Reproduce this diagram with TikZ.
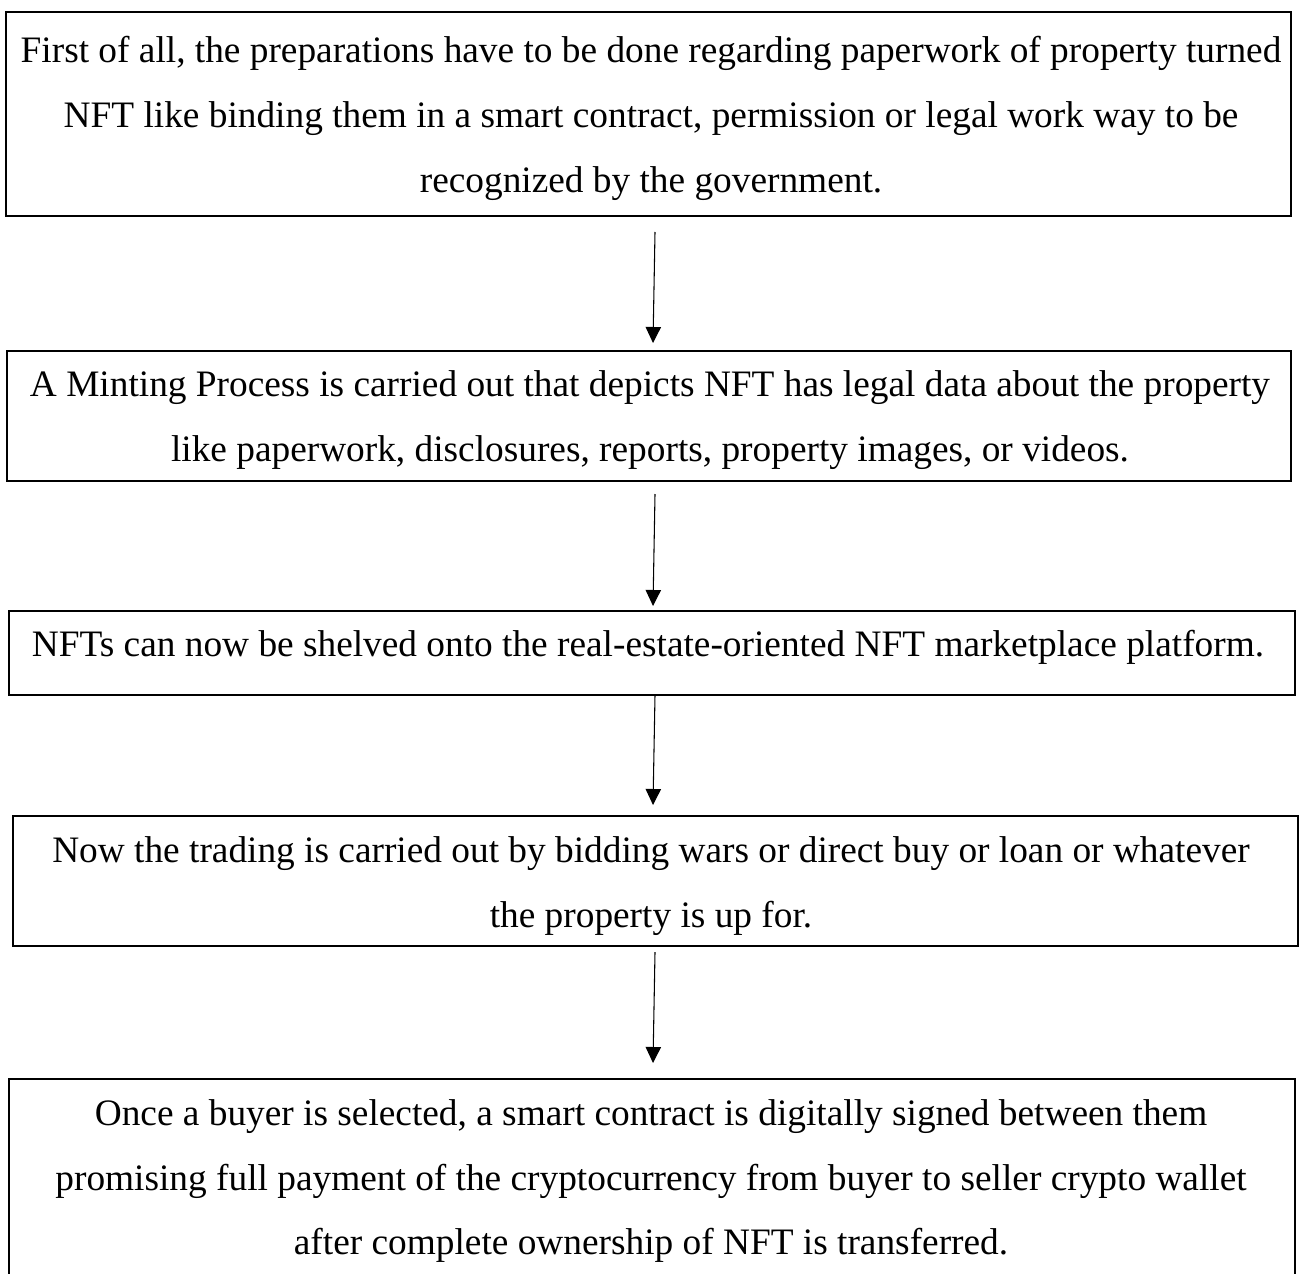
\documentclass[tikz,border=0pt]{standalone}
\usepackage{fontspec}
\setmainfont{Liberation Serif}
\usetikzlibrary{arrows.meta,calc}
\begin{document}
\begin{tikzpicture}[x=0.75pt,y=-0.75pt,
  boxst/.style={draw=black,line width=1.5pt,rectangle,inner sep=0pt,outer sep=0pt},
  txt/.style={inner sep=0pt,anchor=base,font=\fontsize{28pt}{48.75pt}\selectfont},
  arr/.style={draw=black,line width=0.8pt,-{Triangle[length=12pt,width=11.5pt]}}]
\useasboundingbox (0,0) rectangle (1301,1273);
\clip (0,0) rectangle (1301,1273);
\fill[white] (0,0) rectangle (1301,1273);
% boxes
\node[boxst,minimum width=963.75pt,minimum height=153pt] (b1) at (648.5,114) {};
\node[boxst,minimum width=963pt,minimum height=97.5pt] (b2) at (649,416) {};
\node[boxst,minimum width=964.5pt,minimum height=63pt] (b3) at (652,653) {};
\node[boxst,minimum width=963.75pt,minimum height=97.5pt] (b4) at (655.5,881) {};
\node[boxst,minimum width=964.5pt,minimum height=158.25pt] (b5) at (652,1184.5) {};
% texts
\node[txt] (t1a) at (651,62.7) {First of all, the preparations have to be done regarding paperwork of property turned};
\node[txt] (t1b) at (651,127.7) {NFT like binding them in a smart contract, permission or legal work way to be};
\node[txt] (t1c) at (651,192.7) {recognized by the government.};
\node[txt] (t2a) at (650,396.7) {A Minting Process is carried out that depicts NFT has legal data about the property};
\node[txt] (t2b) at (650,461.7) {like paperwork, disclosures, reports, property images, or videos.};
\node[txt] (t3a) at (648,656.7) {NFTs can now be shelved onto the real-estate-oriented NFT marketplace platform.};
\node[txt] (t4a) at (651,862.3) {Now the trading is carried out by bidding wars or direct buy or loan or whatever};
\node[txt] (t4b) at (651,927.3) {the property is up for.};
\node[txt] (t5a) at (651,1125.7) {Once a buyer is selected, a smart contract is digitally signed between them};
\node[txt] (t5b) at (651,1190) {promising full payment of the cryptocurrency from buyer to seller crypto wallet};
\node[txt] (t5c) at (651,1254.3) {after complete ownership of NFT is transferred.};
% arrows
\draw[arr] ($(b1.south)+(6.5,16)$) -- ($(b2.north)+(4,-8)$);
\draw[arr] ($(b2.south)+(6,13)$) -- ($(b3.north)+(1,-5)$);
\draw[arr] ($(b3.south)+(3,0)$) -- ($(b4.north)+(-2.5,-11)$);
\draw[arr] ($(b4.south)+(-0.5,6)$) -- ($(b5.north)+(1,-16)$);
\end{tikzpicture}
\end{document}
